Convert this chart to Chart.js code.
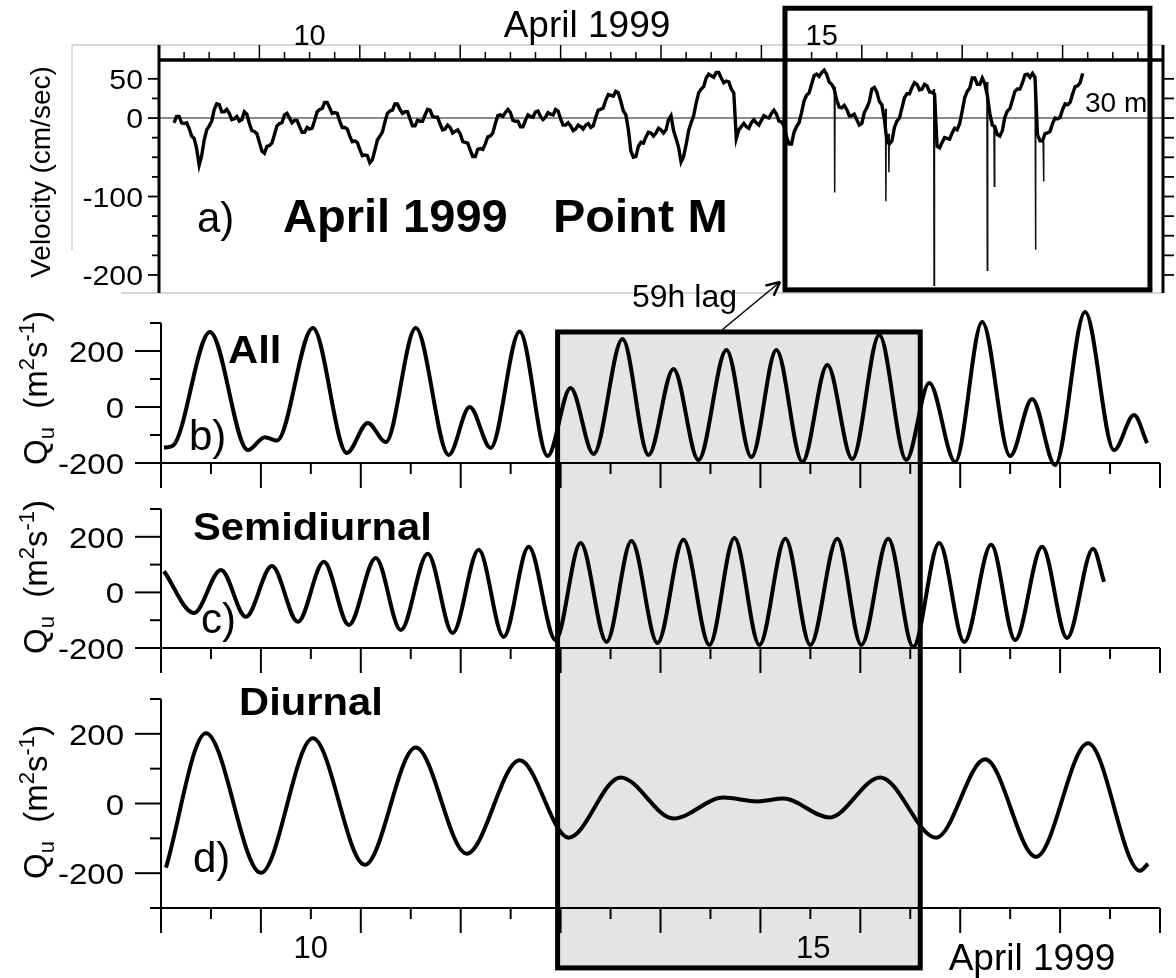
<!DOCTYPE html>
<html>
<head>
<meta charset="utf-8">
<script src="https://cdn.jsdelivr.net/npm/chart.js@4.4.1/dist/chart.umd.min.js"></script>
<style>
html, body { margin: 0; padding: 0; background: #fff; }
#wrap { position: relative; width: 1176px; height: 978px; overflow: hidden; }
#wrap canvas { position: absolute; left: 0; top: 0; }
</style>
</head>
<body>
<div id="wrap">
  <canvas id="cD" width="1176" height="978" style="z-index:1"></canvas>
  <canvas id="cC" width="1176" height="978" style="z-index:2"></canvas>
  <canvas id="cB" width="1176" height="978" style="z-index:3"></canvas>
  <canvas id="cA" width="1176" height="978" style="z-index:4"></canvas>
</div>
<script>
const W = 1176, H = 978;
const FONT = '"Liberation Sans", Arial, sans-serif';

// time axis, days of April 1999
const X_MIN = 8.5, X_MAX = 18.5;
const topLabelDays = [10, 15.1];
const bottomLabelDays = [10, 15.03];
const dayLabels = ['10', '15'];

// a) velocity at 30 m, one value every 0.025 day from April 8.65 (cm/s)
const velStart = 8.65, velStep = 0.025;
const velocity = [
  -6, 2, 2, -6, -7, -6, -13, -23, -26, -39, -60, -48, -28, -15, -10, -4, 11, 18, 17, 8, 8, 11, 6, -2, -1, 2, -4, -2, 8, 5, -7, -16, -17, -20, -31, -42, -45, -36, -35, -32,
  -21, -10, -7, -6, 4, 6, 0, -6, -3, -3, -11, -18, -18, -12, -14, -13, -3, 8, 11, 12, 20, 20, 13, 6, 7, 6, -4, -12, -12, -14, -23, -30, -29, -31, -40, -48, -47, -48, -57, -53,
  -41, -28, -23, -18, -5, 6, 9, 10, 18, 18, 11, 6, 8, 8, -1, -10, -10, -3, -4, -4, 4, 11, 10, 2, 1, 1, -8, -15, -14, -9, -12, -19, -17, -15, -20, -30, -31, -32, -41, -49,
  -49, -40, -39, -40, -33, -24, -23, -19, -7, 3, 4, 2, 7, 11, 7, -3, -4, -4, -11, -11, -3, 4, 2, 1, 8, 9, 2, -2, 1, 7, 5, 4, 11, 9, -1, -9, -9, -6, -10, -16,
  -14, -9, -11, -14, -9, -7, -12, -10, 1, 10, 11, 13, 23, 30, 29, 28, 34, 32, 21, 9, 4, -15, -42, -50, -49, -36, -31, -32, -24, -18, -19, -23, -19, -13, -15, -19, -15, -2, 3, -16,
  -26, -37, -56, -49, -34, -16, -6, 3, 19, 32, 37, 40, 51, 56, 54, 52, 58, 58, 51, 45, 47, 46, 37, 32, -26, -15, -11, -7, -11, -13, -6, -2, -6, -9, -3, 3, 1, 0, 6, 10,
  5, -4, -5, -10, -24, -33, -33, -18, -11, -6, 7, 22, 29, 32, 43, 54, 56, 53, 58, 61, 56, 46, 43, 37, 23, 14, 13, 16, 11, 3, 3, 5, -2, -9, -7, 7, 13, 21, 37, 39,
  33, 21, 17, -2, -29, -33, -29, -12, -4, 0, 13, 26, 31, 31, 39, 45, 43, 36, 37, 43, 41, 33, 33, 30, -36, -38, -31, -25, -26, -27, -19, -13, -15, -7, 9, 26, 34, 38, 51, 51,
  43, 43, 51, 44, 29, 6, -9, -11, -21, -23, -16, 1, 9, 12, 23, 34, 37, 37, 45, 55, 56, 52, 57, 52, -21, -29, -29, -20, -19, -17, -7, 0, -1, 1, 11, 18, 17, 20, 31, 40,
  41, 45, 57
];
// short downward spikes in the velocity record
const spikeDay    = [15.23, 15.74, 15.77, 16.22, 16.75, 16.82, 17.23, 17.31];
const spikeTop    = [40, 12, -20, 37, 46, -10, 30, -30];
const spikeBottom = [-95, -106, -69, -213, -194, -87, -168, -81];
const velTicks = [50, 25, 0, -25, -50, -75, -100, -125, -150, -175, -200];
const velLabels = [50, 0, -100, -200];

// b) All
const allDays = [8.53, 8.62, 8.99, 9.37, 9.54, 9.66, 10.02, 10.36, 10.57, 10.75, 11.05, 11.38, 11.59, 11.80,
  12.09, 12.37, 12.60, 12.83, 13.12, 13.38, 13.63, 13.88, 14.16, 14.41, 14.66, 14.92, 15.17, 15.42,
  15.69, 15.96, 16.19, 16.45, 16.72, 17.00, 17.22, 17.45, 17.75, 18.04, 18.24, 18.37];
const allQ = [-145, -138, 268, -154, -108, -120, 282, -164, -57, -125, 282, -171, 0, -146,
  270, -175, 68, -168, 243, -171, 136, -189, 204, -179, 204, -196, 150, -186,
  257, -189, 86, -196, 304, -175, 29, -207, 339, -154, -29, -129];

// c) Semidiurnal
const semiDays = [8.53, 8.83, 9.10, 9.35, 9.61, 9.87, 10.13, 10.38, 10.65, 10.90, 11.17, 11.42, 11.68, 11.93,
  12.18, 12.45, 12.70, 12.96, 13.21, 13.47, 13.73, 13.99, 14.24, 14.49, 14.75, 15.00, 15.27, 15.51,
  15.78, 16.03, 16.29, 16.54, 16.81, 17.05, 17.32, 17.57, 17.83, 17.94];
const semiQ = [76, -74, 81, -88, 95, -106, 110, -117, 124, -135, 139, -146, 153, -160,
  164, -171, 178, -178, 185, -182, 189, -189, 196, -189, 193, -189, 193, -189,
  193, -196, 178, -178, 171, -171, 164, -164, 157, 38];

// d) Diurnal
const diurDays = [8.55, 8.95, 9.50, 10.02, 10.54, 11.05, 11.56, 12.09, 12.58, 13.10, 13.63, 14.13, 14.47,
  14.73, 15.19, 15.70, 16.26, 16.75, 17.26, 17.78, 18.30, 18.38];
const diurQ = [-184, 202, -199, 187, -176, 161, -144, 124, -98, 75, -43, 17, 6,
  14, -40, 75, -98, 127, -153, 173, -193, -173];

const quTicksBC = [300, 200, 100, 0, -100, -200];
const quTicksD = [300, 200, 100, 0, -100, -200, -300];
const quLabels = [200, 0, -200];

// shaded 59 h window and the lagged box on the velocity panel
const shadeDays = [12.47, 16.1];
const shadeTopQ = 268, shadeBottomQ = -472;
const lagBoxDays = [14.735, 18.37];
const lagBoxVel = [140, -219];

function txt(ctx, s, x, y, size, o) {
  o = o || {};
  ctx.save();
  ctx.font = (o.bold ? 'bold ' : '') + size + 'px ' + FONT;
  ctx.fillStyle = '#000';
  ctx.textAlign = o.align || 'left';
  ctx.textBaseline = 'alphabetic';
  ctx.translate(x, y);
  if (o.rot) ctx.rotate(o.rot);
  ctx.scale(o.sx || 1, 1);
  ctx.fillText(s, 0, 0);
  ctx.restore();
}

function seg(ctx, x1, y1, x2, y2, w, c) {
  ctx.save();
  ctx.strokeStyle = c || '#000';
  ctx.lineWidth = w;
  ctx.beginPath();
  ctx.moveTo(x1, y1);
  ctx.lineTo(x2, y2);
  ctx.stroke();
  ctx.restore();
}

// "Qu (m2 s-1)" rotated, with sub/superscripts
function quTitle(ctx, bx, cy) {
  const parts = [['Q', 33, 0], ['u', 22, 7], ['  (m', 33, 0], ['2', 22, -13], ['s', 33, 0], ['-1', 22, -13], [')', 33, 0]];
  ctx.save();
  ctx.fillStyle = '#000';
  ctx.translate(bx, cy);
  ctx.rotate(-Math.PI / 2);
  let total = 0;
  parts.forEach(p => { ctx.font = p[1] + 'px ' + FONT; total += ctx.measureText(p[0]).width; });
  let x = -total / 2;
  parts.forEach(p => {
    ctx.font = p[1] + 'px ' + FONT;
    ctx.fillText(p[0], x, p[2]);
    x += ctx.measureText(p[0]).width;
  });
  ctx.restore();
}

function qAxes(c, yTicks) {
  const {ctx, chartArea: ca, scales: {x, y}} = c;
  const yTop = y.getPixelForValue(yTicks[0]);
  seg(ctx, ca.left, yTop, ca.left, ca.bottom, 2);
  yTicks.forEach(v => {
    const py = y.getPixelForValue(v);
    const len = quLabels.includes(v) ? 26 : 11;
    seg(ctx, ca.left - len, py, ca.left, py, 2);
  });
  seg(ctx, ca.left, ca.bottom, ca.right, ca.bottom, 2);
  for (let t = X_MIN; t <= X_MAX + 1e-9; t += 0.5) {
    const px = x.getPixelForValue(t);
    const len = (t % 1 === 0.5) ? 25 : 11;
    seg(ctx, px, ca.bottom, px, ca.bottom + len, 2);
  }
  quLabels.forEach(v => {
    txt(ctx, String(v), ca.left - 37, y.getPixelForValue(v) + 11, 30, {align: 'right', sx: 1.1});
  });
}

function quPanel(id, area, days, vals, yMin, yMax, yTicks, hooks) {
  return new Chart(document.getElementById(id), {
    type: 'line',
    data: {
      datasets: [{
        data: days.map((d, i) => ({x: d, y: vals[i]})),
        borderColor: '#000', borderWidth: 4, pointRadius: 0,
        cubicInterpolationMode: 'monotone', clip: false
      }]
    },
    options: {
      responsive: false, animation: false, events: [],
      layout: {padding: {left: area.left, top: area.top, right: W - area.right, bottom: H - area.bottom}},
      plugins: {legend: {display: false}, tooltip: {enabled: false}},
      scales: {
        x: {type: 'linear', display: false, min: X_MIN, max: X_MAX},
        y: {type: 'linear', display: false, min: yMin, max: yMax}
      }
    },
    plugins: [{
      id: 'deco',
      beforeDraw: c => { if (hooks.before) hooks.before(c); },
      afterDraw: c => { qAxes(c, yTicks); hooks.after(c); }
    }]
  });
}

const chartB = quPanel('cB', {left: 161, right: 1160, top: 323, bottom: 463}, allDays, allQ, -200, 300, quTicksBC, {
  after: c => {
    quTitle(c.ctx, 47, 388);
    txt(c.ctx, 'All', 228, 363, 39, {bold: true, sx: 1.07});
    txt(c.ctx, 'b)', 189, 450, 42);
  }
});

const chartC = quPanel('cC', {left: 161, right: 1160, top: 509, bottom: 648}, semiDays, semiQ, -200, 300, quTicksBC, {
  after: c => {
    quTitle(c.ctx, 47, 577);
    txt(c.ctx, 'Semidiurnal', 193, 540, 39, {bold: true, sx: 1.07});
    txt(c.ctx, 'c)', 201, 633, 42);
  }
});

const chartD = quPanel('cD', {left: 161, right: 1160, top: 699, bottom: 908}, diurDays, diurQ, -300, 300, quTicksD, {
  before: c => {
    const {ctx, scales: {x, y}} = c;
    const x1 = x.getPixelForValue(shadeDays[0]), x2 = x.getPixelForValue(shadeDays[1]);
    const y1 = chartB.scales.y.getPixelForValue(shadeTopQ), y2 = y.getPixelForValue(shadeBottomQ);
    ctx.save();
    ctx.fillStyle = '#e4e4e4';
    ctx.fillRect(x1, y1, x2 - x1, y2 - y1);
    ctx.strokeStyle = '#000';
    ctx.lineWidth = 5;
    ctx.strokeRect(x1, y1, x2 - x1, y2 - y1);
    ctx.restore();
  },
  after: c => {
    const {ctx, scales: {x}} = c;
    quTitle(ctx, 47, 802);
    txt(ctx, 'Diurnal', 239, 715, 39, {bold: true, sx: 1.07});
    txt(ctx, 'd)', 193, 872, 42);
    bottomLabelDays.forEach((d, i) => txt(ctx, dayLabels[i], x.getPixelForValue(d), 958, 31, {align: 'center'}));
    txt(ctx, 'April 1999', 1032, 970, 37, {align: 'center'});
  }
});

const velPoints = velocity.map((v, i) => ({x: velStart + i * velStep, y: v}));
const spikePoints = [];
spikeDay.forEach((d, i) => {
  spikePoints.push({x: d - 0.004, y: spikeTop[i]}, {x: d, y: spikeBottom[i]}, {x: d + 0.004, y: spikeTop[i]}, {x: d + 0.005, y: null});
});

const chartA = new Chart(document.getElementById('cA'), {
  type: 'line',
  data: {
    datasets: [
      {data: velPoints, borderColor: '#000', borderWidth: 3.4, pointRadius: 0, tension: 0},
      {data: spikePoints, borderColor: '#111', borderWidth: 1.5, pointRadius: 0, tension: 0, spanGaps: false}
    ]
  },
  options: {
    responsive: false, animation: false, events: [],
    layout: {padding: {left: 159, top: 60, right: W - 1163, bottom: H - 293}},
    plugins: {legend: {display: false}, tooltip: {enabled: false}},
    scales: {
      x: {type: 'linear', display: false, min: X_MIN, max: X_MAX},
      y: {type: 'linear', display: false, min: -223, max: 74}
    }
  },
  plugins: [{
    id: 'velDeco',
    beforeDatasetsDraw: c => {
      const {ctx, chartArea: ca, scales: {y}} = c;
      // light frame around the panel
      seg(ctx, ca.left - 87, ca.top - 15, ca.right, ca.top - 15, 1.5, '#c8c8c8');
      seg(ctx, ca.left - 87, ca.top - 15, ca.left - 87, ca.top + 190, 1.5, '#d4d4d4');
      seg(ctx, ca.left - 38, ca.bottom, ca.right, ca.bottom, 1.5, '#c8c8c8');
      // zero line
      const y0 = y.getPixelForValue(0);
      seg(ctx, ca.left, y0, ca.right, y0, 2, '#8a8a8a');
    },
    afterDraw: c => {
      const {ctx, chartArea: ca, scales: {x, y}} = c;
      seg(ctx, ca.left, ca.top - 15, ca.left, ca.bottom, 3);
      seg(ctx, ca.right, ca.top - 15, ca.right, ca.bottom, 3);
      seg(ctx, ca.left, ca.top, ca.right, ca.top, 3.5);
      for (let t = X_MIN; t <= X_MAX + 1e-9; t += 0.25) {
        const px = x.getPixelForValue(t);
        const len = (t % 1 === 0.5) ? 15 : 8;
        seg(ctx, px, ca.top, px, ca.top - len, 1.5);
      }
      velTicks.forEach(v => {
        const py = y.getPixelForValue(v);
        const len = velLabels.includes(v) ? 11 : 7;
        seg(ctx, ca.left - len, py, ca.left, py, 1.8);
        seg(ctx, ca.right, py, ca.right + 11, py, 1.8);
      });
      velLabels.forEach(v => txt(ctx, String(v), ca.left - 16, y.getPixelForValue(v) + 10, 27, {align: 'right', sx: 1.12}));
      topLabelDays.forEach((d, i) => txt(ctx, dayLabels[i], x.getPixelForValue(d), 45, 29, {align: 'center'}));
      txt(ctx, 'April 1999', 587, 37, 37, {align: 'center'});
      txt(ctx, 'Velocity (cm/sec)', 50, 172, 28, {align: 'center', rot: -Math.PI / 2});
      txt(ctx, 'a)', 197, 232, 42);
      txt(ctx, 'April 1999', 283, 232, 47, {bold: true});
      txt(ctx, 'Point M', 553, 232, 47, {bold: true, sx: 1.03});
      txt(ctx, '30 m', 1085, 112, 28);

      // lagged box
      const bx1 = x.getPixelForValue(lagBoxDays[0]), bx2 = x.getPixelForValue(lagBoxDays[1]);
      const by1 = y.getPixelForValue(lagBoxVel[0]), by2 = y.getPixelForValue(lagBoxVel[1]);
      ctx.save();
      ctx.strokeStyle = '#000';
      ctx.lineWidth = 5;
      ctx.strokeRect(bx1, by1, bx2 - bx1, by2 - by1);
      ctx.restore();

      // 59 h lag arrow from the shaded window to the box
      const sx = chartB.scales.x.getPixelForValue(14.115), sy = chartB.scales.y.getPixelForValue(275);
      const ex = x.getPixelForValue(14.685), ey = y.getPixelForValue(-209);
      seg(ctx, sx, sy, ex, ey, 1.5);
      const ang = Math.atan2(ey - sy, ex - sx);
      [0.45, -0.45].forEach(a => {
        seg(ctx, ex, ey, ex - 15 * Math.cos(ang + a), ey - 15 * Math.sin(ang + a), 2.5);
      });
      txt(ctx, '59h lag', 632, 307, 32);
    }
  }]
});
</script>
</body>
</html>
